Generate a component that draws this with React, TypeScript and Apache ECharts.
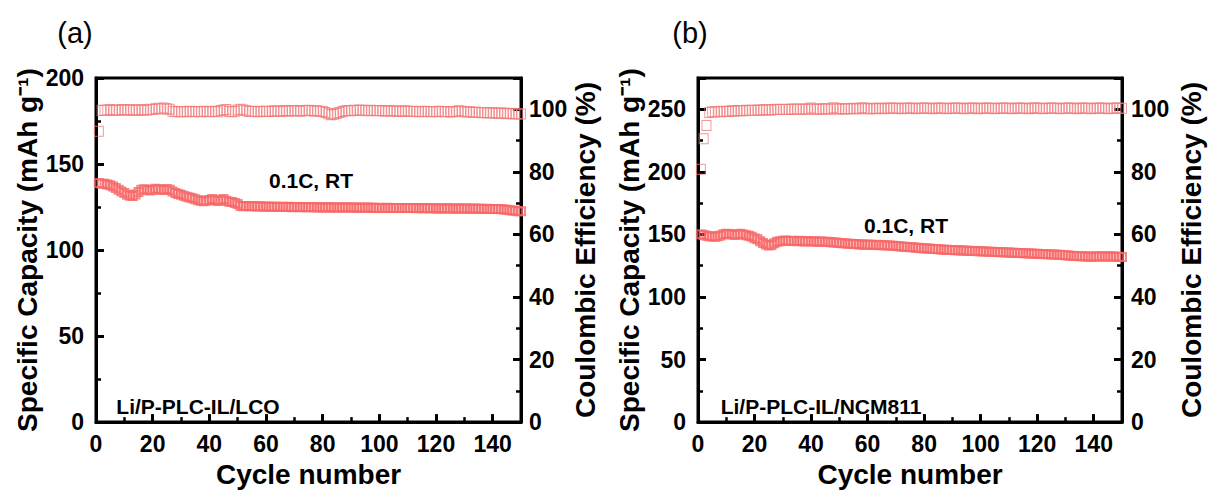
import React, { useEffect, useRef } from "react";
import * as echarts from "echarts";

const lcoCapacity = [
  139.0,138.6,138.5,138.1,137.6,137.0,136.1,135.0,134.0,133.1,
  132.2,131.6,131.4,132.3,133.8,135.0,135.4,135.0,134.6,135.1,
  135.6,135.4,135.1,134.9,135.5,135.0,134.0,133.2,132.6,132.1,
  131.6,131.0,130.6,130.1,129.5,129.0,128.6,128.4,128.7,129.1,
  129.6,129.0,128.5,129.0,129.6,128.6,128.1,127.9,127.4,126.8,
  125.6,125.5,125.6,125.4,125.5,125.4,125.3,125.4,125.2,125.3,
  125.2,125.1,125.2,125.1,125.0,125.1,125.0,125.1,124.9,125.0,
  125.0,124.9,125.0,124.9,124.9,125.0,124.9,124.8,124.9,124.8,
  124.8,124.9,124.8,124.8,124.7,124.8,124.7,124.7,124.8,124.7,
  124.7,124.6,124.7,124.6,124.6,124.7,124.6,124.6,124.5,124.6,
  124.5,124.5,124.6,124.5,124.5,124.4,124.5,124.4,124.4,124.5,
  124.4,124.4,124.3,124.4,124.3,124.3,124.4,124.3,124.3,124.2,
  124.3,124.2,124.2,124.3,124.2,124.2,124.1,124.2,124.1,124.1,
  124.1,124.0,124.1,124.0,124.0,124.0,123.9,124.0,123.9,123.9,
  123.8,123.8,123.7,123.6,123.4,123.2,123.0,122.8,122.6,122.5,
];

const lcoEfficiency = [
  93.0,99.6,99.8,99.7,99.9,99.6,99.8,99.7,99.9,99.8,
  99.7,99.9,99.8,99.6,99.8,99.9,99.7,99.8,100.0,99.9,
  100.2,100.3,100.1,100.4,100.2,100.0,99.4,99.2,99.3,99.2,
  99.3,99.2,99.4,99.3,99.2,99.3,99.2,99.4,99.3,99.2,
  99.3,99.4,99.2,99.6,99.8,99.9,99.3,99.2,99.4,99.8,
  100.0,99.8,99.5,99.3,99.4,99.3,99.2,99.4,99.3,99.4,
  99.3,99.4,99.5,99.4,99.3,99.5,99.6,99.4,99.5,99.6,
  99.5,99.4,99.6,99.5,99.7,99.6,99.4,99.5,99.4,99.3,
  99.0,98.6,98.3,98.4,98.7,99.0,99.3,99.5,99.6,99.5,
  99.7,99.6,99.8,99.7,99.6,99.5,99.7,99.6,99.5,99.6,
  99.5,99.4,99.6,99.5,99.4,99.5,99.3,99.4,99.5,99.4,
  99.3,99.4,99.3,99.2,99.3,99.4,99.3,99.2,99.3,99.2,
  99.4,99.3,99.2,99.3,99.1,99.2,99.3,99.5,99.4,99.2,
  99.1,99.2,99.0,99.1,99.0,98.9,99.0,98.9,98.8,98.9,
  98.8,98.7,98.8,98.7,98.6,98.7,98.6,98.5,98.6,98.5,
];

const ncmCapacity = [
  150.2,149.6,149.0,148.6,148.4,148.1,148.6,149.2,150.1,150.6,
  150.4,150.0,149.6,150.1,150.5,150.0,149.4,149.0,148.1,147.0,
  146.1,144.6,143.2,142.0,141.2,141.6,143.0,144.1,144.6,145.0,
  145.1,144.8,145.0,144.7,144.6,144.9,144.6,144.4,144.7,144.4,
  144.5,144.2,144.3,144.3,144.0,144.1,143.7,143.6,143.5,143.1,
  143.0,142.9,142.5,142.6,142.3,142.3,141.9,142.0,141.8,141.9,
  141.7,141.6,141.7,141.4,141.5,141.3,141.2,141.1,140.9,140.8,
  140.5,140.4,140.1,140.0,139.7,139.7,139.4,139.3,139.0,139.0,
  138.8,138.7,138.4,138.3,138.1,138.0,137.8,137.7,137.5,137.5,
  137.3,137.3,137.1,137.1,136.9,136.9,136.7,136.7,136.5,136.5,
  136.3,136.3,136.1,136.1,135.9,136.0,135.8,135.8,135.6,135.6,
  135.4,135.4,135.2,135.2,135.0,135.0,134.8,134.8,134.6,134.6,
  134.4,134.4,134.2,134.2,134.0,134.0,133.8,133.7,133.5,133.3,
  133.1,132.9,132.7,132.7,132.5,132.5,132.3,132.4,132.2,132.3,
  132.3,132.4,132.5,132.4,132.3,132.4,132.3,132.2,132.1,132.0,
];

const ncmEfficiency = [
  80.8,90.6,94.8,99.0,99.2,99.1,99.3,99.2,99.4,99.3,
  99.4,99.5,99.4,99.6,99.5,99.5,99.7,99.6,99.7,99.6,
  99.8,99.7,99.8,99.9,99.8,99.8,99.9,100.0,99.9,99.9,
  100.0,99.9,100.0,100.1,100.0,100.0,100.1,100.0,100.1,100.4,
  100.1,100.0,100.1,100.1,100.2,100.1,100.1,100.5,100.2,100.1,
  100.2,100.1,100.2,100.2,100.3,100.2,100.2,100.5,100.3,100.2,
  100.2,100.3,100.2,100.3,100.3,100.2,100.3,100.4,100.3,100.3,
  100.3,100.2,100.3,100.3,100.4,100.3,100.2,100.3,100.3,100.4,
  100.3,100.3,100.2,100.3,100.4,100.3,100.3,100.2,100.3,100.3,
  100.4,100.3,100.3,100.2,100.3,100.3,100.4,100.3,100.2,100.3,
  100.3,100.4,100.3,100.3,100.2,100.3,100.3,100.4,100.3,100.3,
  100.2,100.3,100.4,100.3,100.3,100.3,100.2,100.3,100.5,100.3,
  100.3,100.2,100.3,100.3,100.4,100.3,100.3,100.2,100.3,100.3,
  100.4,100.3,100.3,100.2,100.3,100.4,100.3,100.3,100.2,100.3,
  100.3,100.4,100.3,100.3,100.2,100.3,100.3,100.4,100.3,100.3,
];

const panelLabels = ["(a)", "(b)"];
const conditionLabel = "0.1C, RT";
const cellLabels = ["Li/P-PLC-IL/LCO", "Li/P-PLC-IL/NCM811"];
const xName = "Cycle number";
const capName = "Specific Capacity (mAh g\u207B\u00B9)";
const ceName = "Coulombic Efficiency (%)";

const FONT = "'Liberation Sans', Arial, sans-serif";
const CAP_COLOR = "#f76868";
const CE_COLOR = "#f07c7c";

const toPoints = (arr: number[]) => arr.map((v, i) => [i + 1, v]);

export default function App() {
  const ref = useRef<HTMLDivElement>(null);
  useEffect(() => {
    if (!ref.current) return;
    const chart = echarts.init(ref.current, undefined, { renderer: "svg" });

    const axisLine = { show: true, lineStyle: { color: "#000", width: 3 } };
    const axisTick = { show: true, inside: true, length: 8, lineStyle: { color: "#000", width: 3 } };
    const minorTick = { show: true, splitNumber: 2, length: 5, lineStyle: { color: "#000", width: 2.5 } };
    const labelStyle = { color: "#000", fontFamily: FONT, fontWeight: "bold" as const, fontSize: 23 };
    const nameStyle = { color: "#000", fontFamily: FONT, fontWeight: "bold" as const, fontSize: 28 };

    const xAxis = (gridIndex: number) => ({
      type: "value",
      gridIndex,
      min: 0,
      max: 150,
      interval: 20,
      name: xName,
      nameLocation: "middle",
      nameGap: 34,
      nameTextStyle: { ...nameStyle, verticalAlign: "top" },
      axisLine,
      axisTick,
      minorTick,
      splitLine: { show: false },
      axisLabel: { ...labelStyle, margin: 10, showMaxLabel: false },
    });

    const yAxis = (gridIndex: number, pos: "left" | "right", max: number, interval: number, nameGap: number, name: string, showMax: boolean, margin: number) => ({
      type: "value",
      gridIndex,
      position: pos,
      min: 0,
      max,
      interval,
      name,
      nameLocation: "middle",
      nameGap,
      nameTextStyle: nameStyle,
      axisLine,
      axisTick,
      minorTick,
      splitLine: { show: false },
      axisLabel: { ...labelStyle, margin, showMaxLabel: showMax },
    });

    const capSeries = (xi: number, yi: number, data: number[]) => ({
      type: "scatter",
      xAxisIndex: xi,
      yAxisIndex: yi,
      symbol: "rect",
      symbolSize: 8,
      itemStyle: { color: "rgba(255,255,255,0)", borderColor: CAP_COLOR, borderWidth: 2 },
      data: toPoints(data),
      silent: true,
    });
    const ceSeries = (xi: number, yi: number, data: number[]) => ({
      type: "scatter",
      xAxisIndex: xi,
      yAxisIndex: yi,
      symbol: "rect",
      symbolSize: [9, 10],
      itemStyle: { color: "rgba(255,255,255,0)", borderColor: CE_COLOR, borderWidth: 1 },
      data: toPoints(data),
      silent: true,
    });

    const textEl = (text: string, x: number, y: number, size: number, bold: boolean) => ({
      type: "text",
      x,
      y,
      style: {
        text,
        fill: "#000",
        font: `${bold ? "bold " : ""}${size}px ${FONT}`,
        textAlign: "center",
        textVerticalAlign: "middle",
      },
    });

    chart.setOption({
      animation: false,
      backgroundColor: "#fff",
      grid: [
        { left: 96, top: 78, width: 425, height: 353, show: true, borderColor: "#000", borderWidth: 3, backgroundColor: "transparent" },
        { left: 698, top: 78, width: 424, height: 353, show: true, borderColor: "#000", borderWidth: 3, backgroundColor: "transparent" },
      ],
      xAxis: [xAxis(0), xAxis(1)],
      yAxis: [
        yAxis(0, "left", 200, 50, 55, capName, true, 12),
        yAxis(0, "right", 110, 20, 48, ceName, false, 8),
        yAxis(1, "left", 275, 50, 53, capName, false, 12),
        yAxis(1, "right", 110, 20, 55, ceName, false, 9),
      ],
      series: [
        capSeries(0, 0, lcoCapacity),
        ceSeries(0, 1, lcoEfficiency),
        capSeries(1, 2, ncmCapacity),
        ceSeries(1, 3, ncmEfficiency),
      ],
      graphic: [
        textEl(panelLabels[0], 75, 33, 29, false),
        textEl(panelLabels[1], 690, 33, 29, false),
        textEl(conditionLabel, 311, 180, 21, true),
        textEl(conditionLabel, 906, 225, 21, true),
        textEl(cellLabels[0], 198, 406, 21, true),
        textEl(cellLabels[1], 821, 406, 21, true),
      ],
    });
    return () => chart.dispose();
  }, []);

  return (
    <div
      ref={ref}
      style={{ position: "absolute", left: 0, top: 0, width: 1208, height: 493, background: "#fff" }}
    />
  );
}
